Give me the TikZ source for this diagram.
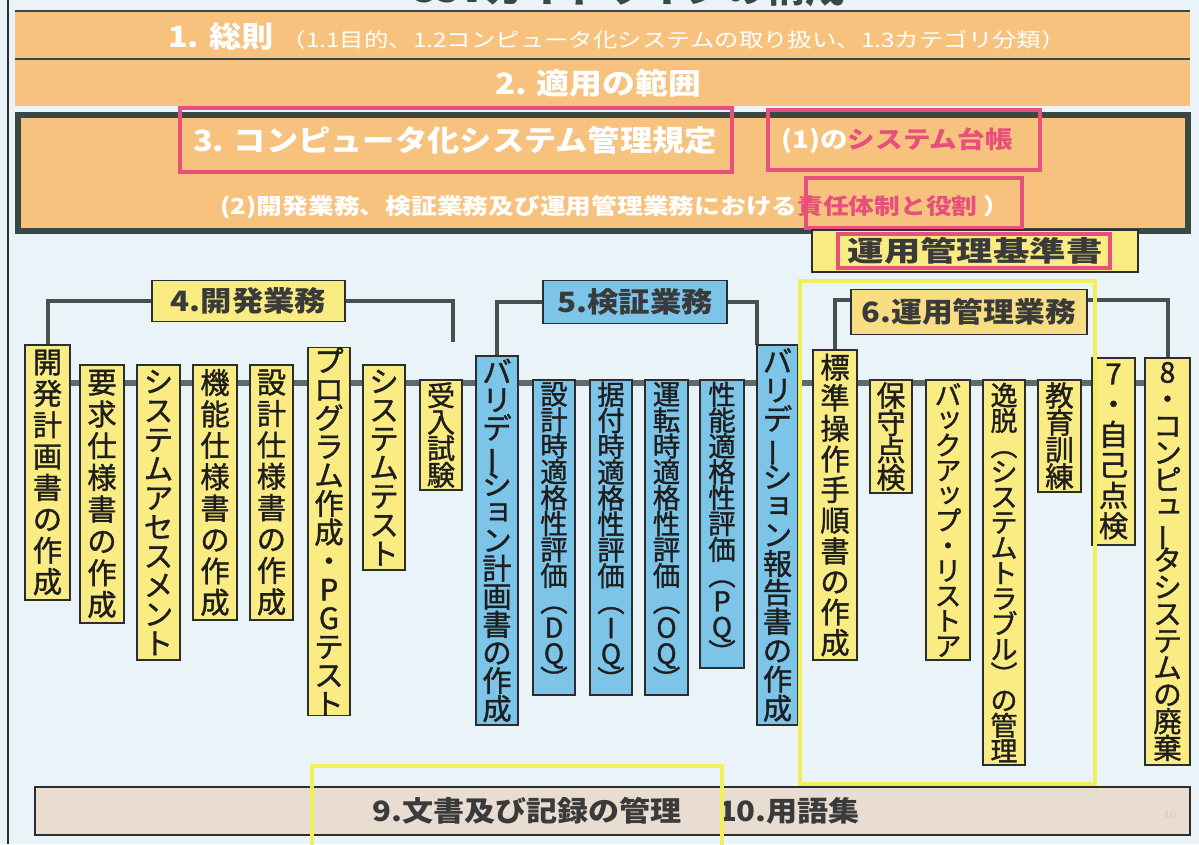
\documentclass[tikz,border=0pt]{standalone}
\usepackage{fontspec}
\setmainfont{Noto Sans CJK JP}
\newfontfamily\vjp[FakeBold=1.2]{Noto Sans CJK JP}
\usepackage{graphicx}
\usetikzlibrary{backgrounds}
\definecolor{bgc}{HTML}{E9F3F8}
\definecolor{orc}{HTML}{F6C27E}
\definecolor{dkc}{HTML}{3A4844}
\definecolor{pinkc}{HTML}{E8507C}
\definecolor{yelc}{HTML}{FAEC82}
\definecolor{yel6}{HTML}{F8DE82}
\definecolor{bluc}{HTML}{7CC5E9}
\definecolor{beic}{HTML}{E9DDD2}
\definecolor{hlc}{HTML}{F2F05A}
\definecolor{boxline}{HTML}{2A2E2E}
\definecolor{txtc}{HTML}{1E1E1E}
\definecolor{labtxt}{HTML}{3A3A3A}
\definecolor{brc}{HTML}{46524F}
\definecolor{busc}{HTML}{5E6B6B}
\definecolor{pgc}{HTML}{E3C6A8}

\newcommand\hs[2]{\scalebox{#1}[1]{#2}}

\ExplSyntaxOn
\NewDocumentCommand \vtext { m }
 {
  \bool_set_true:N \l_tmpa_bool
  \tl_map_inline:nn { #1 }
   {
    \bool_if:NF \l_tmpa_bool { \\ }
    \bool_set_false:N \l_tmpa_bool
    \str_case:nnF { ##1 }
     {
      { ー } { \rotatebox[origin=c]{90}{ー} }
      { （ } { \rotatebox[origin=c]{-90}{（} }
      { ） } { \rotatebox[origin=c]{-90}{）} }
      { ッ } { \raisebox{0.12em}{\hspace{0.1em}ッ} }
      { ュ } { \raisebox{0.12em}{\hspace{0.1em}ュ} }
      { ョ } { \raisebox{0.12em}{\hspace{0.1em}ョ} }
     }
     { ##1 }
   }
 }
\ExplSyntaxOff

% name, x1, y1, x2, y2, fill, lines, text
\newcommand\vcol[8]{%
  \pgfmathsetmacro\vbs{((#5-#3)-4)/#7*0.75}%
  \pgfmathsetmacro\vfs{min(22,\vbs*1.06)}%
  \pgfmathsetmacro\vw{(#4-#2)*0.75}%
  \pgfmathsetmacro\vh{(#5-#3)*0.75}%
  \node[vbox, fill=#6, minimum width=\vw pt, minimum height=\vh pt, text width=\vw pt,
        font={\vjp\fontsize{\vfs pt}{\vbs pt}\selectfont\lineskiplimit=-50pt\lineskip=0pt}]
        (#1) at ({(#2+#4)/2},{(#3+#5)/2}) {\vtext{#8}};%
}

\pgfdeclarelayer{bgzero}
\pgfdeclarelayer{bgone}
\pgfsetlayers{bgzero,bgone,main}

\tikzset{
  vbox/.style={draw=boxline, line width=1.2pt, inner sep=0pt, text=txtc, align=center},
  lab/.style={draw=boxline, line width=1.2pt, inner sep=0pt, text=labtxt,
              font=\fontsize{21}{21}\selectfont\bfseries},
  brk/.style={draw=brc, line width=3pt},
  bus/.style={draw=busc, line width=5pt},
  pinkbox/.style={draw=pinkc, line width=3pt},
  hilite/.style={draw=hlc, line width=3.5pt},
  wt/.style={text=white, inner sep=0pt},
}

\begin{document}
\begin{tikzpicture}[x=0.75pt,y=-0.75pt]
\useasboundingbox (0,0) rectangle (1199,844);
\begin{pgfonlayer}{bgzero}
  \fill[bgc] (0,0) rectangle (1199,844);
\end{pgfonlayer}

% cut-off title
\node[anchor=base, text=dkc, inner sep=0pt, font=\fontsize{30}{30}\selectfont\bfseries] (title) at (627,2) {CSVガイドラインの構成};

% left frame line
\coordinate (frT) at (8,0);
\coordinate (frB) at (8,844);
\draw[boxline, line width=1pt] (frT) -- (frB);

% ---- box 1 and box 2
\fill[orc] (15,11) rectangle (1190,106);
\draw[dkc, line width=1.8pt] (15,11) -- (1190,11);
\draw[dkc, line width=2.2pt] (15,59) -- (1190,59);
\node[wt] (t1) at (617,36) {\hs{1.1}{\fontsize{22}{22}\selectfont\bfseries 1. 総則}\hspace{6pt}\hs{1.22}{\fontsize{15}{15}\selectfont （1.1目的、1.2コンピュータ化システムの取り扱い、1.3カテゴリ分類）}};
\node[wt] (t2) at (598,83) {\hs{1.12}{\fontsize{22}{22}\selectfont\bfseries 2. 適用の範囲}};

% ---- box 3
\draw[dkc, line width=4.5pt, fill=orc] (18,115) rectangle (1188,231);
\node[wt] (t3) at (455,140) {\hs{1.1}{\fontsize{22}{22}\selectfont\bfseries 3. コンピュータ化システム管理規定}};
\node[wt] (t3b) at (897,141) {\hs{1.15}{\fontsize{18}{18}\selectfont\bfseries (1)の\textcolor{pinkc}{システム台帳}}};
\node[wt] (t3c) at (615,207) {\hs{1.17}{\fontsize{16.5}{16.5}\selectfont\bfseries (2)開発業務、検証業務及び運用管理業務における\textcolor{pinkc}{責任体制と役割}\ ）}};
\draw[pinkbox] (180,108) rectangle (732,172);
\draw[pinkbox] (768,110) rectangle (1040,170);
\draw[pinkbox] (806,178) rectangle (1022,228);

% ---- 運用管理基準書
\node[draw=boxline, line width=1.5pt, fill=yelc, minimum width=244.5pt, minimum height=31.5pt, inner sep=0pt] (kj) at (975,251) {};
\draw[pinkbox] (838,234) rectangle (1110,268);
\node[text=labtxt, inner sep=0pt] (kjt) at (975,251) {\hs{1.3}{\fontsize{21}{21}\selectfont\bfseries 運用管理基準書}};

% ---- vertical boxes
\vcol{b1}{25}{345}{70}{600}{yelc}{8}{開発計画書の作成}
\vcol{b2}{80}{365}{124}{623}{yelc}{8}{要求仕様書の作成}
\vcol{b3}{137}{365}{180}{660}{yelc}{10}{システムアセスメント}
\vcol{b4}{193}{365}{237}{620}{yelc}{8}{機能仕様書の作成}
\vcol{b5}{250}{365}{293}{620}{yelc}{8}{設計仕様書の作成}
\vcol{b6}{308}{358}{350}{705}{yelc}{12}{プログラム作成・PGテスト}
\vcol{b7}{363}{365}{405}{570}{yelc}{7}{システムテスト}
\vcol{b8}{420}{380}{462}{490}{yelc}{4}{受入試験}
\vcol{b9}{476}{356}{518}{725}{bluc}{13}{バリデーション計画書の作成}
\vcol{b10}{533}{380}{575}{695}{bluc}{12}{設計時適格性評価（DQ）}
\vcol{b11}{590}{380}{632}{695}{bluc}{12}{据付時適格性評価（IQ）}
\vcol{b12}{645}{380}{688}{695}{bluc}{12}{運転時適格性評価（OQ）}
\vcol{b13}{700}{380}{744}{668}{bluc}{11}{性能適格性評価（PQ）}
\vcol{b14}{757}{345}{798}{725}{bluc}{13}{バリデーション報告書の作成}
\vcol{b15}{813}{350}{857}{660}{yelc}{10}{標準操作手順書の作成}
\vcol{b16}{870}{380}{912}{493}{yelc}{4}{保守点検}
\vcol{b17}{926}{380}{970}{660}{yelc}{11}{バックアップ・リストア}
\vcol{b18}{983}{380}{1025}{765}{yelc}{15}{逸脱（システムトラブル）の管理}
\vcol{b19}{1038}{380}{1081}{492}{yelc}{4}{教育訓練}
\vcol{b20}{1092}{358}{1135}{545}{yelc}{6}{7・自己点検}
\vcol{b21}{1145}{358}{1190}{765}{yelc}{15}{8・コンピュータシステムの廃棄}

% ---- group labels
\node[lab, fill=yelc, minimum width=144.75pt, minimum height=30.75pt] (lab4) at (248.5,301) {\hs{1.12}{4.開発業務}};
\node[lab, fill=bluc, minimum width=138pt, minimum height=32pt] (lab5) at (635,302) {\hs{1.12}{5.検証業務}};
\node[lab, fill=yel6, minimum width=177pt, minimum height=33.75pt] (lab6) at (969,312) {\hs{1.1}{6.運用管理業務}};

% ---- bus line and brackets
\coordinate (busL) at (25,383);
\coordinate (busR) at (1190,383);
\coordinate (k4r) at (453,342);
\coordinate (k5r) at (757,345);
\begin{pgfonlayer}{bgone}
  \draw[bus] (busL) -- (busR);
  \draw[brk] (lab4.west) -| (b1.north);
  \draw[brk] (lab4.east) -| (k4r);
  \draw[brk] (lab5.west) -| (b9.north);
  \draw[brk] (lab5.east) -| (k5r);
  \draw[brk] ([yshift=9pt]lab6.west) -| (b15.north);
  \draw[brk] ([yshift=9pt]lab6.east) -| (b21.north);
\end{pgfonlayer}

% ---- bottom bar
\node[draw=boxline, line width=1.8pt, fill=beic, minimum width=866pt, minimum height=36pt, inner sep=0pt] (bot) at (612.5,811) {};
\node[text=labtxt, inner sep=0pt] (t9) at (527,811) {\hs{1.11}{\fontsize{21}{21}\selectfont\bfseries 9.文書及び記録の管理}};
\node[text=labtxt, inner sep=0pt] (t10) at (789,811) {\hs{1.11}{\fontsize{21}{21}\selectfont\bfseries 10.用語集}};
\node[text=pgc, inner sep=0pt, font=\fontsize{8}{8}\selectfont] (pg) at (1170,815) {10};

% ---- yellow highlight frames
\draw[hilite] (800,281) rectangle (1095,784);
\coordinate (hb1) at (312,850);
\coordinate (hb2) at (312,766);
\coordinate (hb3) at (722,766);
\coordinate (hb4) at (722,850);
\draw[hilite] (hb1) -- (hb2) -- (hb3) -- (hb4);
\end{tikzpicture}
\end{document}
